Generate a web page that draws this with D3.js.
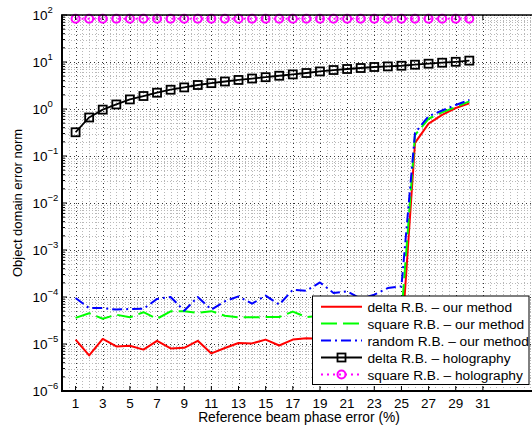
<!DOCTYPE html>
<html>
<head>
<meta charset="utf-8">
<script src="https://cdn.jsdelivr.net/npm/d3@7"></script>
<style>
  html, body { margin: 0; padding: 0; background: #fff; }
  svg { display: block; font-family: "Liberation Sans", Arial, Helvetica, sans-serif; }
</style>
</head>
<body>
<svg id="chart" width="532" height="430"></svg>
<script>
// Reference beam phase error (%)
const phaseError = [1, 2, 3, 4, 5, 6, 7, 8, 9, 10, 11, 12, 13, 14, 15,
                    16, 17, 18, 19, 20, 21, 22, 23, 24, 25, 26, 27, 28, 29, 30];

// Object domain error norm, one array per reconstruction
const deltaOurs = [1.24e-5, 5.7e-6, 1.28e-5, 8.9e-6, 9.2e-6, 7.6e-6, 1.17e-5, 8.05e-6, 8.3e-6, 1.17e-5,
                   6.3e-6, 8.2e-6, 1.05e-5, 1.03e-5, 1.24e-5, 9.3e-6, 1.24e-5, 1.32e-5, 1.3e-5, 1.1e-5,
                   1.2e-5, 1.0e-5, 1.1e-5, 1.2e-5, 1.0e-5, 0.19, 0.49, 0.75, 1.05, 1.32];
const squareOurs = [3.6e-5, 4.5e-5, 3.45e-5, 4.2e-5, 3.7e-5, 4.75e-5, 3.45e-5, 4.95e-5, 4.95e-5, 4.6e-5,
                    5.0e-5, 4.0e-5, 3.7e-5, 3.7e-5, 3.75e-5, 3.75e-5, 4.9e-5, 3.75e-5, 4.0e-5, 3.8e-5,
                    4.2e-5, 3.9e-5, 4.1e-5, 3.8e-5, 4.0e-5, 0.28, 0.62, 0.85, 1.1, 1.45];
const randomOurs = [9.5e-5, 5.8e-5, 5.8e-5, 5.4e-5, 5.55e-5, 5.6e-5, 9.1e-5, 1.0e-4, 5.1e-5, 1.0e-4,
                    5.4e-5, 8.1e-5, 1.03e-4, 7.2e-5, 1.07e-4, 6.9e-5, 1.43e-4, 1.36e-4, 2.04e-4, 1.22e-4,
                    1.32e-4, 9.2e-5, 1.12e-4, 1.55e-4, 1.68e-4, 0.31, 0.70, 0.93, 1.22, 1.55];
const deltaHolo = [0.32, 0.66, 0.97, 1.25, 1.6, 1.89, 2.22, 2.57, 2.88, 3.24,
                   3.55, 3.85, 4.15, 4.45, 4.75, 5.1, 5.45, 5.83, 6.3, 6.75,
                   7.1, 7.45, 7.83, 8.06, 8.33, 8.76, 9.2, 9.66, 10.1, 10.7];
const squareHolo = [83, 83, 83, 83, 83, 83, 83, 83, 83, 83,
                    83, 83, 83, 83, 83, 83, 83, 83, 83, 83,
                    83, 83, 83, 83, 83, 83, 83, 83, 83, 83];

const xTicks = [1, 3, 5, 7, 9, 11, 13, 15, 17, 19, 21, 23, 25, 27, 29, 31];
const yDecades = [-6, -5, -4, -3, -2, -1, 0, 1, 2];

const seriesNames = ["delta R.B. \u2013 our method", "square R.B. \u2013 our method",
                     "random R.B. \u2013 our method", "delta R.B. \u2013 holography",
                     "square R.B. \u2013 holography"];

const series = [
  { name: seriesNames[0], values: deltaOurs,  color: "#ff0000", dash: null,        width: 2,   marker: null },
  { name: seriesNames[1], values: squareOurs, color: "#00ff00", dash: "16,6",      width: 2,   marker: null },
  { name: seriesNames[2], values: randomOurs, color: "#0000ff", dash: "10,4,2,4",  width: 2,   marker: null },
  { name: seriesNames[3], values: deltaHolo,  color: "#000000", dash: null,        width: 1.8, marker: "square" },
  { name: seriesNames[4], values: squareHolo, color: "#ff00ff", dash: "2,4",       width: 2,   marker: "circle" }
];

const plotLeft = 62, plotTop = 15, plotBottom = 391;
const x = d3.scaleLinear().domain([0, 35]).range([plotLeft, plotLeft + 35 * 13.577]);
const y = d3.scaleLog().domain([1e-6, 1e2]).range([plotBottom, plotTop]);
const plotRight = x(35);

const svg = d3.select("#chart");
svg.append("rect").attr("width", 532).attr("height", 430).attr("fill", "#fff");

svg.append("defs").append("clipPath").attr("id", "plotClip")
  .append("rect").attr("x", plotLeft).attr("y", plotTop - 6)
  .attr("width", plotRight - plotLeft).attr("height", plotBottom - plotTop + 6);

// Grid: minor first, then major
const grid = svg.append("g");
const minorY = [];
yDecades.slice(0, -1).forEach(k => { for (let m = 2; m <= 9; m++) minorY.push(m * Math.pow(10, k)); });
grid.selectAll(".gy-minor").data(minorY).join("line")
  .attr("x1", plotLeft).attr("x2", plotRight)
  .attr("y1", d => Math.round(y(d)) + 0.5).attr("y2", d => Math.round(y(d)) + 0.5)
  .attr("stroke", "#b8b8b8").attr("stroke-width", 1).attr("stroke-dasharray", "1,2");
const minorX = [];
for (let i = 0; i <= 70; i++) { const v = i / 2; if (!xTicks.includes(v)) minorX.push(v); }
grid.selectAll(".gx-minor").data(minorX).join("line")
  .attr("x1", d => Math.round(x(d)) + 0.5).attr("x2", d => Math.round(x(d)) + 0.5)
  .attr("y1", plotTop).attr("y2", plotBottom)
  .attr("stroke", "#b8b8b8").attr("stroke-width", 1).attr("stroke-dasharray", "1,2");
grid.selectAll(".gy-major").data(yDecades.map(k => Math.pow(10, k))).join("line")
  .attr("x1", plotLeft).attr("x2", plotRight)
  .attr("y1", d => Math.round(y(d)) + 0.5).attr("y2", d => Math.round(y(d)) + 0.5)
  .attr("stroke", "#333").attr("stroke-width", 1).attr("stroke-dasharray", "1,3");
grid.selectAll(".gx-major").data(xTicks).join("line")
  .attr("x1", d => Math.round(x(d)) + 0.5).attr("x2", d => Math.round(x(d)) + 0.5)
  .attr("y1", plotTop).attr("y2", plotBottom)
  .attr("stroke", "#333").attr("stroke-width", 1).attr("stroke-dasharray", "1,3");

// Data lines
const plot = svg.append("g").attr("clip-path", "url(#plotClip)");
const line = d3.line().x((d, i) => x(phaseError[i])).y(d => y(d));
series.forEach(s => {
  plot.append("path").datum(s.values)
    .attr("d", line).attr("fill", "none")
    .attr("stroke", s.color).attr("stroke-width", s.width)
    .attr("stroke-dasharray", s.dash).attr("stroke-linejoin", "round");
  if (s.marker === "square") {
    plot.selectAll(null).data(s.values).join("rect")
      .attr("x", (d, i) => x(phaseError[i]) - 4).attr("y", d => y(d) - 4)
      .attr("width", 8).attr("height", 8)
      .attr("fill", "none").attr("stroke", s.color).attr("stroke-width", 1.8);
  } else if (s.marker === "circle") {
    plot.selectAll(null).data(s.values).join("circle")
      .attr("cx", (d, i) => x(phaseError[i])).attr("cy", d => y(d)).attr("r", 4)
      .attr("fill", "none").attr("stroke", s.color).attr("stroke-width", 2);
  }
});

// Axes frame and ticks
const axes = svg.append("g").attr("stroke", "#000");
axes.append("line").attr("x1", plotLeft).attr("x2", plotLeft)
  .attr("y1", plotTop).attr("y2", plotBottom + 1).attr("stroke-width", 2);
axes.append("line").attr("x1", plotLeft - 1).attr("x2", plotRight)
  .attr("y1", plotBottom).attr("y2", plotBottom).attr("stroke-width", 2);
axes.append("line").attr("x1", plotLeft - 1).attr("x2", plotRight)
  .attr("y1", plotTop).attr("y2", plotTop).attr("stroke-width", 1.5);

axes.selectAll(".ty").data(yDecades.map(k => Math.pow(10, k))).join("line")
  .attr("x1", plotLeft).attr("x2", plotLeft + 5).attr("y1", d => y(d)).attr("y2", d => y(d)).attr("stroke-width", 1);
axes.selectAll(".tym").data(minorY).join("line")
  .attr("x1", plotLeft).attr("x2", plotLeft + 3).attr("y1", d => y(d)).attr("y2", d => y(d)).attr("stroke-width", 1);
axes.selectAll(".txb").data(xTicks).join("line")
  .attr("x1", d => x(d)).attr("x2", d => x(d)).attr("y1", plotBottom).attr("y2", plotBottom - 5).attr("stroke-width", 1);
axes.selectAll(".txt").data(xTicks).join("line")
  .attr("x1", d => x(d)).attr("x2", d => x(d)).attr("y1", plotTop).attr("y2", plotTop + 5).attr("stroke-width", 1);

// Tick labels
svg.append("g").selectAll("text").data(xTicks).join("text")
  .attr("x", d => x(d)).attr("y", 407.5).attr("text-anchor", "middle")
  .attr("font-size", 13.5).attr("fill", "#000").text(d => d);

const yl = svg.append("g").selectAll("text").data(yDecades).join("text")
  .attr("x", 32.5).attr("y", k => y(Math.pow(10, k)) + 4.8)
  .attr("font-size", 13.5).attr("fill", "#000");
yl.append("tspan").text("10");
yl.append("tspan").attr("dy", -7).attr("font-size", 9.5).text(k => k < 0 ? "\u2212" + (-k) : k);

// Axis titles
svg.append("text").attr("x", 299).attr("y", 422)
  .attr("text-anchor", "middle").attr("font-size", 13.8).text("Reference beam phase error (%)");
svg.append("text").attr("transform", `translate(22,${(plotTop + plotBottom) / 2}) rotate(-90)`)
  .attr("text-anchor", "middle").attr("font-size", 13).text("Object domain error norm");

// Legend
const lg = svg.append("g");
lg.append("rect").attr("x", 312.5).attr("y", 296).attr("width", 216.5).attr("height", 88.5)
  .attr("fill", "#fff").attr("stroke", "#000").attr("stroke-width", 1);
const rowY = [306.7, 323.5, 340.5, 357.5, 374.5];
series.forEach((s, i) => {
  const ry = rowY[i];
  lg.append("line").attr("x1", 321).attr("x2", 362).attr("y1", ry).attr("y2", ry)
    .attr("stroke", s.color).attr("stroke-width", s.width).attr("stroke-dasharray", s.dash);
  if (s.marker === "square") {
    lg.append("rect").attr("x", 341.5 - 4).attr("y", ry - 4).attr("width", 8).attr("height", 8)
      .attr("fill", "none").attr("stroke", s.color).attr("stroke-width", 1.8);
  } else if (s.marker === "circle") {
    lg.append("circle").attr("cx", 341.5).attr("cy", ry).attr("r", 4)
      .attr("fill", "none").attr("stroke", s.color).attr("stroke-width", 2);
  }
  lg.append("text").attr("x", 367.5).attr("y", ry + 5).attr("font-size", 13.7).attr("fill", "#000").text(s.name);
});
</script>
</body>
</html>
